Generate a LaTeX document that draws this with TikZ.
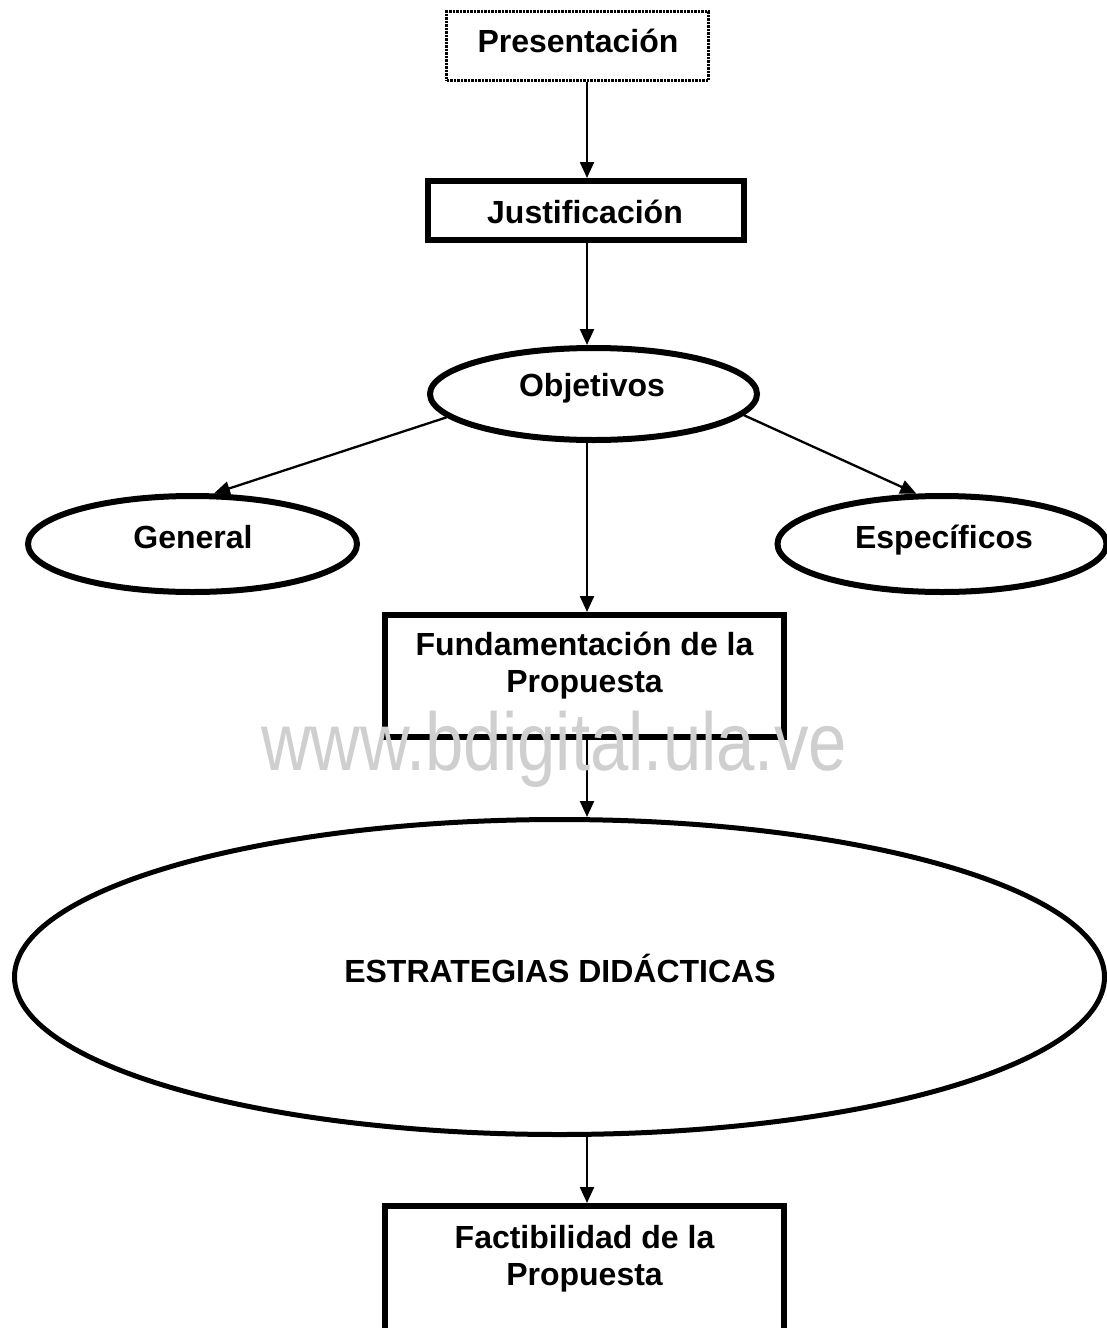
\documentclass[tikz,border=0pt]{standalone}
\usepackage{fontspec}
\setmainfont{Liberation Sans}
\usetikzlibrary{shapes.geometric,arrows.meta}
\newcommand{\lbfont}{\fontsize{32}{37}\selectfont\bfseries}
\tikzset{
  boxshape/.style={draw, rectangle, line width=6pt, inner sep=0pt},
  ovalshape/.style={draw, ellipse, line width=6pt, inner sep=0pt},
  lbl/.style={font=\lbfont, anchor=base, align=center, inner sep=0pt},
  arr/.style={line width=2.3pt, -{Triangle[length=16pt,width=14pt]}},
}
\begin{document}
\begin{tikzpicture}[x=1pt,y=-1pt]
\useasboundingbox (0,0) rectangle (1107,1328);
\coordinate (axis) at (587,0);
% shapes
\node[draw, rectangle, line width=2.5pt, densely dotted, inner sep=0pt, minimum width=262pt, minimum height=69pt] (pres) at (577.5,46) {};
\node[boxshape, minimum width=316pt, minimum height=59pt] (just) at (586,210.5) {};
\node[ovalshape, minimum width=327pt, minimum height=92pt] (obj) at (593.5,394) {};
\node[ovalshape, minimum width=329pt, minimum height=96pt] (gen) at (192.5,544) {};
\node[ovalshape, minimum width=329pt, minimum height=96pt] (esp) at (942,544) {};
\node[boxshape, minimum width=399pt, minimum height=122pt] (fund) at (584.5,676) {};
\node[ovalshape, line width=5pt, minimum width=1090pt, minimum height=315pt] (estr) at (559.5,977) {};
\node[boxshape, minimum width=399pt, minimum height=132pt] (fact) at (584.5,1272) {};
% labels
\node[lbl] (presT) at (578,52) {Presentación};
\node[lbl] (justT) at (585,223) {Justificación};
\node[lbl] (objT) at (592,396) {Objetivos};
\node[lbl] (genT) at (193,548) {General};
\node[lbl] (espT) at (944,548) {Específicos};
\node[lbl] (fundT) at (584.5,692) {Fundamentación de la\\Propuesta};
\node[lbl] (estrT) at (560,982) {ESTRATEGIAS DIDÁCTICAS};
\node[lbl] (factT) at (584.5,1285) {Factibilidad de la\\Propuesta};
% connectors
\draw[arr] (pres.south -| axis) -- (just.north -| axis);
\draw[arr] (just.south -| axis) -- (obj.north -| axis);
\draw[arr] (obj.189) -- (gen.67);
\draw[arr] (obj.-8.5) -- (esp.117);
\draw[arr] (obj.south -| axis) -- (fund.north -| axis);
\draw[arr] (fund.south -| axis) -- (estr.north -| axis);
\draw[arr] (estr.south -| axis) -- (fact.north -| axis);
% watermark
\node[anchor=base, inner sep=0pt, text=black!19, font=\fontsize{82}{82}\selectfont] (wm) at (554,770) {\scalebox{0.84}[1]{www.bdigital.ula.ve}};
\end{tikzpicture}
\end{document}
